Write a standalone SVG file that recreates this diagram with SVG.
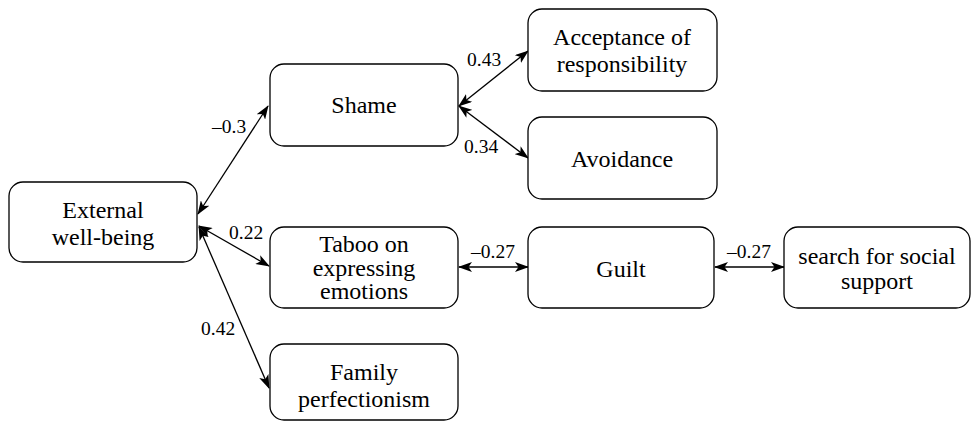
<svg xmlns="http://www.w3.org/2000/svg" width="978" height="422" viewBox="0 0 978 422">
  <defs>
    <marker id="head" viewBox="0 0 14 10" refX="13" refY="5" markerWidth="14" markerHeight="10" markerUnits="userSpaceOnUse" orient="auto-start-reverse">
      <path d="M0,0 L14,5 L0,10 L3.5,5 z" fill="#000000"/>
    </marker>
  </defs>

  <!-- connectors: double-headed lines with their weights -->
  <g id="connectors" fill="none" stroke="#000000" stroke-width="1.3" marker-start="url(#head)" marker-end="url(#head)">
    <line x1="198" y1="214" x2="268" y2="106"/>
    <line x1="199" y1="226" x2="269" y2="266"/>
    <line x1="199" y1="227" x2="269" y2="388"/>
    <line x1="459" y1="106" x2="528" y2="51"/>
    <line x1="459" y1="106" x2="528" y2="158"/>
    <line x1="459" y1="267" x2="528" y2="267"/>
    <line x1="715" y1="267" x2="784" y2="267"/>
  </g>
  <g id="weights" fill="#000000">
    <text font-family="Liberation Serif" font-size="19.5" x="212" y="133">–0.3</text>
    <text font-family="Liberation Serif" font-size="19.5" x="467" y="66">0.43</text>
    <text font-family="Liberation Serif" font-size="19.5" x="464" y="153">0.34</text>
    <text font-family="Liberation Serif" font-size="19.5" x="229" y="239">0.22</text>
    <text font-family="Liberation Serif" font-size="19.5" x="201" y="335">0.42</text>
    <text font-family="Liberation Serif" font-size="19.5" x="471" y="258">–0.27</text>
    <text font-family="Liberation Serif" font-size="19.5" x="727" y="258">–0.27</text>
  </g>

  <!-- nodes -->
  <g fill="#ffffff" stroke="#000000" stroke-width="1.3">
    <g id="external">
      <rect x="9" y="182" width="188" height="80" rx="14"/>
      <text font-family="Liberation Serif" font-size="24" text-anchor="middle" fill="#000000" stroke="none" x="103" y="218">External</text>
      <text font-family="Liberation Serif" font-size="24" text-anchor="middle" fill="#000000" stroke="none" x="103" y="245">well-being</text>
    </g>

    <g id="shame">
      <rect x="270" y="64" width="188" height="82" rx="14"/>
      <text font-family="Liberation Serif" font-size="24" text-anchor="middle" fill="#000000" stroke="none" x="364" y="113">Shame</text>
    </g>

    <g id="acceptance">
      <rect x="528" y="9" width="189" height="82" rx="14"/>
      <text font-family="Liberation Serif" font-size="24" text-anchor="middle" fill="#000000" stroke="none" x="622" y="45">Acceptance of</text>
      <text font-family="Liberation Serif" font-size="24" text-anchor="middle" fill="#000000" stroke="none" x="622" y="72">responsibility</text>
    </g>

    <g id="avoidance">
      <rect x="528" y="117" width="189" height="82" rx="14"/>
      <text font-family="Liberation Serif" font-size="24" text-anchor="middle" fill="#000000" stroke="none" x="622" y="167">Avoidance</text>
    </g>

    <g id="taboo">
      <rect x="270" y="227" width="188" height="81" rx="14"/>
      <text font-family="Liberation Serif" font-size="24" text-anchor="middle" fill="#000000" stroke="none" x="364" y="252">Taboo on</text>
      <text font-family="Liberation Serif" font-size="24" text-anchor="middle" fill="#000000" stroke="none" x="364" y="276">expressing</text>
      <text font-family="Liberation Serif" font-size="24" text-anchor="middle" fill="#000000" stroke="none" x="364" y="299">emotions</text>
    </g>

    <g id="guilt">
      <rect x="528" y="227" width="186" height="81" rx="14"/>
      <text font-family="Liberation Serif" font-size="24" text-anchor="middle" fill="#000000" stroke="none" x="621" y="277">Guilt</text>
    </g>

    <g id="social-support">
      <rect x="784" y="227" width="186" height="81" rx="14"/>
      <text font-family="Liberation Serif" font-size="24" text-anchor="middle" fill="#000000" stroke="none" x="877" y="264">search for social</text>
      <text font-family="Liberation Serif" font-size="24" text-anchor="middle" fill="#000000" stroke="none" x="877" y="289">support</text>
    </g>

    <g id="family">
      <rect x="270" y="344" width="188" height="76" rx="14"/>
      <text font-family="Liberation Serif" font-size="24" text-anchor="middle" fill="#000000" stroke="none" x="364" y="380">Family</text>
      <text font-family="Liberation Serif" font-size="24" text-anchor="middle" fill="#000000" stroke="none" x="364" y="407">perfectionism</text>
    </g>
  </g>
</svg>
